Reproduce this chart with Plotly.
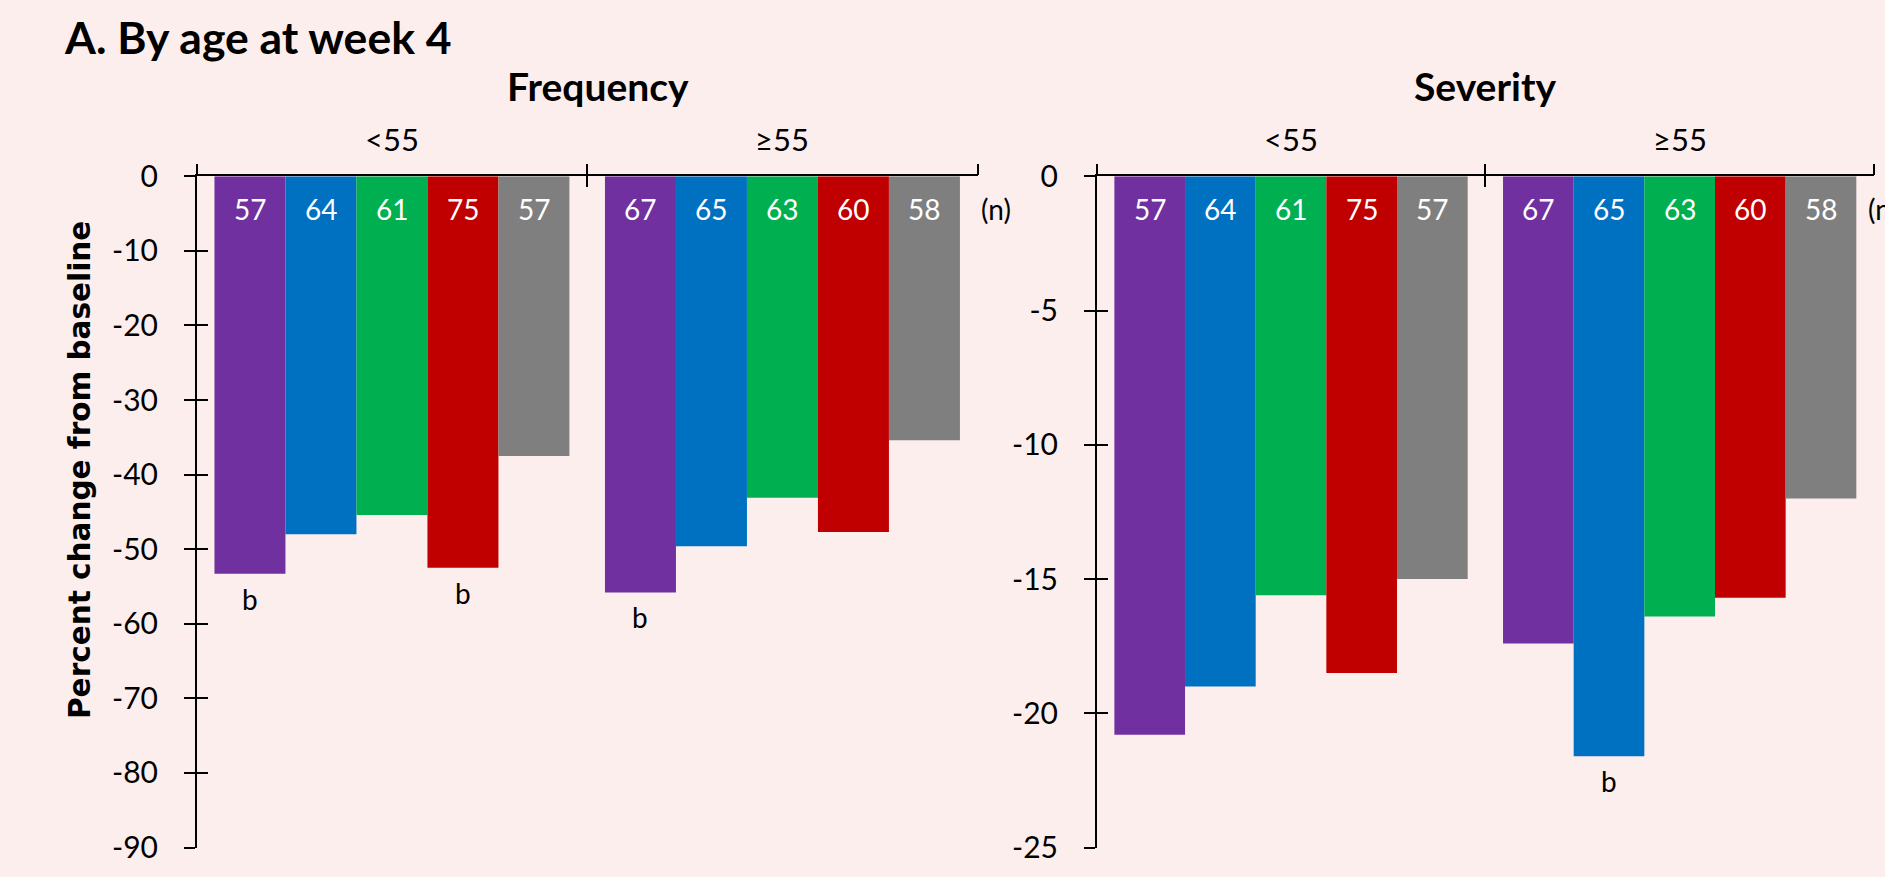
import plotly.graph_objects as go

# Canvas size in pixels; layout positions below are given as pixel offsets
W, H = 1885, 877


def fx(px):
    return px / W


def fy(px):
    return 1 - px / H


# ---- data -------------------------------------------------------------
groups = ["<55", "≥55"]
group_pos = [0, 1]
group_edges = [-0.5, 0.5, 1.5]

arms = ["Arm 1", "Arm 2", "Arm 3", "Arm 4", "Arm 5"]
arm_colors = ["#7030A0", "#0070C0", "#00B050", "#C00000", "#7F7F7F"]

n_lt55 = [57, 64, 61, 75, 57]
n_ge55 = [67, 65, 63, 60, 58]

freq_lt55 = [-53.3, -48.0, -45.4, -52.5, -37.5]
freq_ge55 = [-55.8, -49.6, -43.1, -47.7, -35.4]
sev_lt55 = [-20.8, -19.0, -15.6, -18.5, -15.0]
sev_ge55 = [-17.4, -21.6, -16.4, -15.7, -12.0]

# footnote "b" flags per bar
freq_b_lt55 = [True, False, False, True, False]
freq_b_ge55 = [True, False, False, False, False]
sev_b_lt55 = [False, False, False, False, False]
sev_b_ge55 = [False, True, False, False, False]

freq_tickvals = [0, -10, -20, -30, -40, -50, -60, -70, -80, -90]
freq_ticktext = ["0", "-10", "-20", "-30", "-40", "-50", "-60", "-70", "-80", "-90"]
sev_tickvals = [0, -5, -10, -15, -20, -25]
sev_ticktext = ["0", "-5", "-10", "-15", "-20", "-25"]

# ---- styling ----------------------------------------------------------
BG = "#FDEEEE"
FONT = "Lato"
BARGAP = 0.091
TICKLEN = 11
Y_TOP, Y_BOT = 176.3, 847.5

panels = [
    dict(title="Frequency", vals=[freq_lt55, freq_ge55], flags=[freq_b_lt55, freq_b_ge55],
         tv=freq_tickvals, tt=freq_ticktext, rng=[-90, 0],
         xa="x", ya="y", xo="x3", yo="y3", dom=(196.7, 977.7), title_x=598, n_x=979),
    dict(title="Severity", vals=[sev_lt55, sev_ge55], flags=[sev_b_lt55, sev_b_ge55],
         tv=sev_tickvals, tt=sev_ticktext, rng=[-25, 0],
         xa="x2", ya="y2", xo="x4", yo="y4", dom=(1096.7, 1874), title_x=1485, n_x=1866),
]

fig = go.Figure()
annotations = []
layout_axes = {}

bar_w = (1 - BARGAP) / len(arms)
offsets = [-(1 - BARGAP) / 2 + (i + 0.5) * bar_w for i in range(len(arms))]

common_axis = dict(showgrid=False, zeroline=False, fixedrange=True, automargin=False,
                   tickcolor="black", tickwidth=1.5, ticklen=TICKLEN, tickmode="array")

for p in panels:
    for i, arm in enumerate(arms):
        fig.add_trace(go.Bar(
            x=group_pos,
            y=[p["vals"][0][i], p["vals"][1][i]],
            name=arm,
            marker=dict(color=arm_colors[i], line=dict(width=0)),
            xaxis=p["xa"], yaxis=p["ya"],
            showlegend=False,
            hoverinfo="y",
        ))
        for g, gp in enumerate(group_pos):
            xb = gp + offsets[i]
            n = (n_lt55 if g == 0 else n_ge55)[i]
            annotations.append(dict(
                x=xb, y=0, xref=p["xa"], yref=p["ya"], text=str(n),
                showarrow=False, yanchor="middle", xanchor="center", yshift=-33,
                font=dict(family=FONT, size=28, color="white")))
            if p["flags"][g][i]:
                annotations.append(dict(
                    x=xb, y=p["vals"][g][i], xref=p["xa"], yref=p["ya"], text="b",
                    showarrow=False, yanchor="middle", xanchor="center", yshift=-25,
                    font=dict(family=FONT, size=28, color="black")))

    # empty trace so the overlay subplot carrying the inward tick marks exists
    fig.add_trace(go.Scatter(x=[None], y=[None], xaxis=p["xo"], yaxis=p["yo"],
                             mode="markers", showlegend=False, hoverinfo="skip"))

    dom = [fx(p["dom"][0]), fx(p["dom"][1])]
    ydom = [fy(Y_BOT), fy(Y_TOP)]
    xk = "xaxis" + p["xa"][1:]
    yk = "yaxis" + p["ya"][1:]
    xok = "xaxis" + p["xo"][1:]
    yok = "yaxis" + p["yo"][1:]

    layout_axes[xk] = dict(
        domain=dom, range=[-0.5, 1.5], side="top", anchor=p["ya"],
        showline=True, linecolor="black", linewidth=1.5,
        tickvals=group_edges, ticks="outside", showticklabels=False, **common_axis)
    layout_axes[xok] = dict(
        domain=dom, range=[-0.5, 1.5], side="top", anchor=p["yo"], overlaying=p["xa"],
        showline=False, tickvals=group_edges, ticks="inside", showticklabels=False,
        **common_axis)
    layout_axes[yk] = dict(
        domain=ydom, range=p["rng"], anchor=p["xa"],
        showline=True, linecolor="black", linewidth=1.5,
        tickvals=p["tv"], ticktext=p["tt"], ticks="outside",
        tickfont=dict(family=FONT, size=30, color="black"), ticklabelstandoff=20,
        **common_axis)
    layout_axes[yok] = dict(
        domain=ydom, range=p["rng"], anchor=p["xo"], overlaying=p["ya"],
        showline=False, tickvals=p["tv"], ticks="inside", showticklabels=False,
        **common_axis)

    # group labels above the category axis
    for gp, gl in zip(group_pos, groups):
        annotations.append(dict(
            x=gp, y=fy(139), xref=p["xa"], yref="paper", text=gl, showarrow=False,
            xanchor="center", yanchor="middle",
            font=dict(family=FONT, size=31, color="black")))

    # panel heading
    annotations.append(dict(
        x=fx(p["title_x"]), y=fy(86), xref="paper", yref="paper",
        text="<b>" + p["title"] + "</b>", showarrow=False,
        xanchor="center", yanchor="middle",
        font=dict(family=FONT, size=39, color="black")))

    # sample-size caption
    annotations.append(dict(
        x=fx(p["n_x"]), y=fy(208.5), xref="paper", yref="paper", text="(n)",
        showarrow=False, xanchor="left", yanchor="middle",
        font=dict(family=FONT, size=28, color="black")))

# figure title
annotations.append(dict(
    x=fx(62), y=fy(36), xref="paper", yref="paper",
    text="<b>A. By age at week 4</b>", showarrow=False,
    xanchor="left", yanchor="middle",
    font=dict(family=FONT, size=44.5, color="black")))

# y-axis title
annotations.append(dict(
    x=fx(80), y=fy(470), xref="paper", yref="paper",
    text="<b>Percent change from baseline</b>", showarrow=False, textangle=-90,
    xanchor="center", yanchor="middle",
    font=dict(family="DejaVu Sans", size=29.5, color="black")))

fig.update_layout(
    width=W, height=H,
    margin=dict(l=0, r=0, t=0, b=0, pad=0, autoexpand=False),
    paper_bgcolor=BG, plot_bgcolor=BG,
    barmode="group", bargap=BARGAP, bargroupgap=0,
    annotations=annotations,
    showlegend=False,
    **layout_axes,
)

fig.write_html("out.html")
